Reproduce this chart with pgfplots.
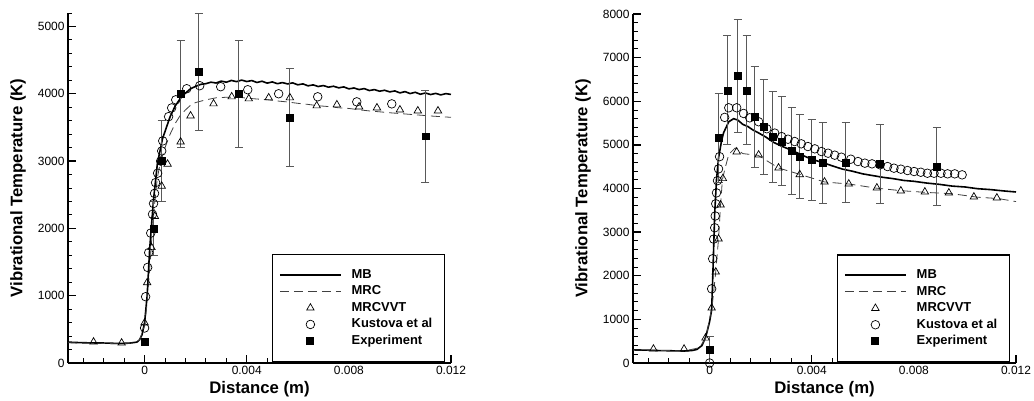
\documentclass[border=0pt]{standalone}
\usepackage{fontspec}
\setmainfont{Liberation Sans}
\usepackage{pgfplots}
\pgfplotsset{compat=1.18}
\begin{document}
\begin{tikzpicture}
\useasboundingbox (0,0) rectangle (1034bp,401bp);
\pgfplotsset{
 myax/.style={
  scale only axis, width=383bp, anchor=south west,
  xmin=-0.003, xmax=0.012,
  axis x line*=bottom, axis y line*=left,
  axis line style={line width=1.8bp,-},
  tick align=inside,
  major tick length=8bp, minor tick length=4.5bp,
  every major tick/.style={line width=1.4bp,black},
  every minor tick/.style={line width=0.9bp,black},
  xtick={0,0.004,0.008,0.012}, xticklabels={0,0.004,0.008,0.012},
  minor xtick={-0.0024,-0.0016,-0.0008,0.0008,0.0016,0.0024,0.0032,0.0048,0.0056,0.0064,0.0072,0.0088,0.0096,0.0104,0.0112},
  scaled x ticks=false, scaled y ticks=false,
  ticklabel style={font=\fontsize{12}{14}\selectfont},
  xlabel={Distance (m)}, ylabel={Vibrational Temperature (K)},
  label style={font=\bfseries\fontsize{16.8}{19}\selectfont},
  xlabel style={at={(axis description cs:0.5,0)}, anchor=center, yshift=-26bp},
  ylabel style={at={(axis description cs:-0.1305,0.5)}, anchor=center},
  legend cell align=left,
  legend style={at={(0.984,0.311)}, anchor=north east, draw=black, line width=1.1bp,
    inner xsep=7bp, inner ysep=12bp, column sep=5bp, font=\bfseries\fontsize{13}{15}\selectfont,
    nodes={inner ysep=2bp, inner xsep=5bp, text height=9.5bp, text depth=3bp}},
  legend image code/.code={\draw[#1] (0bp,0bp) -- (61bp,0bp);},
 },
 mb/.style={black, line width=1.6bp, mark=none},
 mrc/.style={black!75, line width=0.8bp, dash pattern=on 9bp off 5bp, mark=none},
 vvt/.style={black, only marks, mark=triangle, mark size=4.3bp, mark options={line width=0.7bp, solid},
   legend image code/.code={\draw[##1] plot coordinates {(30.5bp,0bp)};}},
 kus/.style={black, only marks, mark=o, mark size=4.3bp, mark options={line width=0.7bp, solid},
   legend image code/.code={\draw[##1] plot coordinates {(30.5bp,0bp)};}},
 expt/.style={black, only marks, mark=square*, mark size=3.4bp, mark options={solid},
   legend image code/.code={\draw[##1] plot coordinates {(30.5bp,0bp)};},
   error bars/.cd, y dir=both, y explicit,
   error bar style={black!65, line width=0.8bp},
   error mark options={rotate=90, mark size=4bp, line width=0.8bp, black!65}},
}
% ---------------- LEFT ----------------
\begin{axis}[myax, at={(68bp,38bp)}, height=350bp, ymin=0, ymax=5200,
  ytick={0,1000,2000,3000,4000,5000}, yticklabels={0,1000,2000,3000,4000,5000},
  minor ytick={200,400,...,5200}]
\addplot[mb] table {
-0.003 310
-0.0025 302
-0.002 298
-0.0015 296
-0.001 290
-0.0006 295
-0.0003 310
-0.0002 343
-0.0001 420
0 600
0.0001 1000
0.0002 1700
0.00035 2430
0.0005 2960
0.0007 3330
0.001 3660
0.0012 3820
0.0014 3930
0.0016 4010
0.0018 4075
0.002 4110
0.0022 4140
0.0024 4150
0.0026 4172
0.0028 4160
0.003 4188
0.0032 4172
0.0034 4198
0.0036 4180
0.0038 4203
0.004 4182
0.0042 4196
0.0044 4168
0.0046 4186
0.0048 4158
0.005 4176
0.0052 4150
0.0054 4166
0.0056 4146
0.0058 4162
0.006 4133
0.0062 4147
0.0064 4118
0.0066 4132
0.0068 4108
0.007 4122
0.0072 4098
0.0074 4112
0.0076 4088
0.0078 4102
0.008 4073
0.0082 4086
0.0084 4062
0.0086 4077
0.0088 4048
0.009 4062
0.0092 4038
0.0094 4052
0.0096 4028
0.0098 4042
0.01 4013
0.0102 4032
0.0104 4003
0.0106 4022
0.0108 3993
0.011 4012
0.0112 3988
0.0114 4006
0.0116 3983
0.0118 4002
0.012 3990
};
\addlegendentry{MB}
\addplot[mrc] table {
-0.003 300
-0.002 295
-0.001 285
-0.0004 300
-0.0002 340
0 550
0.0001 900
0.0002 1400
0.0003 1950
0.0004 2400
0.0005 2750
0.0006 2950
0.0008 3200
0.001 3400
0.0012 3560
0.0014 3680
0.0016 3760
0.0018 3830
0.002 3870
0.0024 3910
0.0028 3940
0.0032 3948
0.0036 3952
0.004 3935
0.0044 3922
0.0048 3912
0.0052 3893
0.0056 3878
0.006 3858
0.0064 3842
0.0068 3822
0.0072 3810
0.0076 3792
0.008 3782
0.0084 3762
0.0088 3745
0.0092 3732
0.0096 3718
0.01 3706
0.0104 3694
0.0108 3682
0.0112 3670
0.0116 3660
0.012 3650
};
\addlegendentry{MRC}
\addplot[vvt] table {
-0.002 313
-0.0009 298
0 597
0.0001 1194
0.00027 1716
0.0004 2180
0.00067 2628
0.0009 2956
0.00141 3285
0.0018 3673
0.0027 3852
0.00341 3956
0.00408 3926
0.00486 3941
0.00569 3941
0.00674 3822
0.00753 3837
0.0084 3807
0.0091 3792
0.01 3762
0.0107 3747
0.01149 3747
};
\addlegendentry{MRCVVT}
\addplot[kus] table {
0.0000 520
0.00004 985
0.00012 1420
0.00016 1640
0.00024 1930
0.00031 2210
0.00035 2370
0.00039 2520
0.00043 2680
0.00051 2820
0.00063 3000
0.00067 3150
0.00071 3300
0.00094 3660
0.00106 3790
0.00122 3910
0.00165 4075
0.00216 4120
0.00298 4105
0.00404 4060
0.00525 4000
0.00678 3955
0.00831 3880
0.00968 3850
};
\addlegendentry{Kustova et al}
\addplot[expt] table[x=x,y=y,y error=e] {
x y e
0.00035 2000 400
0.00067 3000 600
0.00141 4000 800
0.00212 4330 870
0.00369 4000 800
0.00569 3650 730
0.0110 3370 680
};
\addlegendentry{Experiment}
\addplot[black, only marks, mark=square*, mark size=3.4bp, forget plot] coordinates {(0,313)};
\end{axis}
% ---------------- RIGHT ----------------
\begin{axis}[myax, at={(633bp,38bp)}, height=349bp, ymin=0, ymax=8000,
  ytick={0,1000,2000,3000,4000,5000,6000,7000,8000}, yticklabels={0,1000,2000,3000,4000,5000,6000,7000,8000},
  minor ytick={200,400,...,8000}]
\addplot[mb] table {
-0.003 300
-0.0025 295
-0.002 285
-0.0015 280
-0.001 275
-0.0007 285
-0.0005 310
-0.0003 400
-0.00015 600
0 950
0.00008 1216
0.00012 1900
0.00016 2660
0.0002 3440
0.00027 4200
0.00035 4700
0.00047 5100
0.00055 5280
0.00075 5530
0.00094 5600
0.0011 5570
0.0013 5470
0.0015 5420
0.0017 5340
0.0019 5280
0.0022 5180
0.0025 5060
0.0028 4975
0.0032 4880
0.0036 4770
0.004 4670
0.0044 4600
0.0048 4520
0.0052 4445
0.0056 4395
0.006 4335
0.0064 4295
0.0068 4255
0.0072 4225
0.0076 4185
0.008 4165
0.0085 4125
0.009 4095
0.0095 4055
0.01 4035
0.0105 3995
0.011 3975
0.0115 3945
0.012 3920
};
\addlegendentry{MB}
\addplot[mrc] table {
-0.003 300
-0.002 290
-0.001 275
-0.0004 350
-0.00015 570
0.0001 1300
0.00024 2090
0.00035 2850
0.00043 3620
0.0005 4200
0.0006 4450
0.00075 4780
0.001 4930
0.0013 4800
0.0019 4760
0.0027 4470
0.0035 4330
0.0045 4150
0.0055 4100
0.0065 4010
0.0075 3950
0.0085 3910
0.0095 3880
0.0105 3800
0.0113 3770
0.012 3700
};
\addlegendentry{MRC}
\addplot[vvt] table {
-0.0022 321
-0.001 321
-0.00016 574
0.00008 1262
0.00024 2088
0.00035 2845
0.00043 3625
0.00052 4230
0.00106 4840
0.00192 4771
0.0027 4473
0.00353 4320
0.0045 4152
0.00545 4106
0.00655 4015
0.00749 3946
0.00843 3923
0.00937 3900
0.01035 3808
0.01125 3785
};
\addlegendentry{MRCVVT}
\addplot[kus] table {
0 0
0.00008 1700
0.00012 2390
0.00016 2840
0.0002 3100
0.00022 3370
0.00024 3650
0.00027 3900
0.00031 4180
0.00035 4450
0.00039 4730
0.00059 5630
0.00075 5850
0.00106 5850
0.00133 5720
0.00157 5620
0.00192 5530
0.00224 5370
0.00255 5270
0.00282 5190
0.00307 5130
0.00333 5077
0.00359 5024
0.00385 4962
0.00412 4909
0.00438 4847
0.00464 4809
0.0049 4764
0.00516 4718
0.00553 4672
0.00581 4618
0.00608 4581
0.00636 4565
0.00668 4542
0.00697 4503
0.00722 4466
0.00749 4443
0.00775 4412
0.00801 4389
0.00827 4373
0.00853 4350
0.00879 4350
0.00906 4350
0.00932 4336
0.0096 4336
0.00989 4313
};
\addlegendentry{Kustova et al}
\addplot[expt] table[x=x,y=y,y error=e] {
x y e
0 300 300
0.00035 5160 1030
0.0007 6250 1250
0.0011 6580 1290
0.00145 6250 1250
0.00176 5640 1150
0.00212 5420 1090
0.00247 5180 1040
0.00282 5080 1020
0.00321 4860 990
0.00353 4730 960
0.004 4660 930
0.00443 4590 930
0.00533 4590 920
0.00667 4560 900
0.0089 4500 890
};
\addlegendentry{Experiment}
\end{axis}
\end{tikzpicture}
\end{document}
